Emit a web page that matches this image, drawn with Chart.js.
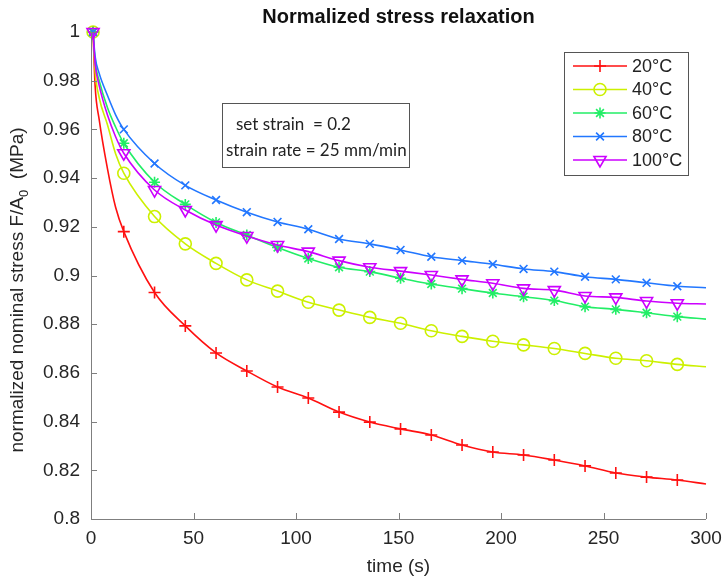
<!DOCTYPE html>
<html><head><meta charset="utf-8">
<script src="https://cdn.jsdelivr.net/npm/chart.js@4.4.0/dist/chart.umd.min.js"></script>
<style>html,body{margin:0;padding:0;background:#fff}#wrap{width:722px;height:583px;position:relative}</style>
</head><body><div id="wrap"><canvas id="c" width="722" height="583"></canvas></div>
<script>
// time (s)
const times = [1,2,4,8,12,16,31,46,61,76,91,106,121,136,151,166,181,196,211,226,241,256,271,286,300];
// marker times
const markerTimes = [1,16,31,46,61,76,91,106,121,136,151,166,181,196,211,226,241,256,271,286];
const s20  = [1.0,0.978,0.964,0.944,0.928,0.918,0.893,0.8793,0.8682,0.8608,0.8542,0.8497,0.8439,0.8398,0.8370,0.8345,0.8304,0.8275,0.8263,0.8242,0.8218,0.8189,0.8172,0.8160,0.8144];
const s40  = [1.0,0.984,0.973,0.962,0.950,0.942,0.9242,0.913,0.905,0.8982,0.8936,0.8890,0.8858,0.8828,0.8804,0.8773,0.875,0.873,0.8715,0.870,0.868,0.866,0.865,0.8635,0.8625];
const s60  = [1.0,0.988,0.980,0.969,0.961,0.9543,0.9383,0.9292,0.9218,0.9166,0.9115,0.9070,0.9034,0.9016,0.8989,0.8965,0.8946,0.8928,0.8913,0.8897,0.8872,0.8861,0.8847,0.8831,0.8821];
const s80  = [1.0,0.990,0.983,0.974,0.966,0.960,0.946,0.937,0.931,0.926,0.922,0.919,0.915,0.913,0.9105,0.9077,0.9061,0.9046,0.9027,0.9016,0.8995,0.8984,0.8970,0.8956,0.8950];
const s100 = [1.0,0.987,0.978,0.966,0.957,0.9502,0.9351,0.9269,0.9207,0.9162,0.9125,0.9098,0.9061,0.9034,0.9018,0.9002,0.8984,0.8968,0.8947,0.8940,0.8916,0.8910,0.8895,0.8886,0.8883];
const seriesNames = ['20°C','40°C','60°C','80°C','100°C'];
const xTickValues = [0,50,100,150,200,250,300];
const yTickValues = [0.8,0.82,0.84,0.86,0.88,0.9,0.92,0.94,0.96,0.98,1];
const titleText = 'Normalized stress relaxation';
const xLabel = 'time (s)';
const noteLines = ['set strain  = 0.2','strain rate = 25 mm/min'];

const allSeries = [s20,s40,s60,s80,s100];
const styles = [
  {color:'#ff1010', pointStyle:'cross',    radius:6, rotation:0},
  {color:'#ccf000', pointStyle:'circle',   radius:6, rotation:0},
  {color:'#22ee66', pointStyle:'star',     radius:5.5, rotation:0},
  {color:'#2277ff', pointStyle:'crossRot', radius:5.5, rotation:0},
  {color:'#cc00ff', pointStyle:'triangle', radius:7, rotation:180}
];
const markerSet = new Set(markerTimes);

const datasets = allSeries.map((vals,i)=>({
  label: seriesNames[i],
  data: times.map((t,j)=>({x:t,y:vals[j]})),
  borderColor: styles[i].color,
  backgroundColor: 'rgba(0,0,0,0)',
  borderWidth: 1.6,
  pointStyle: styles[i].pointStyle,
  pointRotation: styles[i].rotation,
  pointBorderColor: styles[i].color,
  pointBackgroundColor: 'rgba(0,0,0,0)',
  pointBorderWidth: 1.6,
  pointRadius: ctx => markerSet.has(times[ctx.dataIndex]) ? styles[i].radius : 0,
  pointHoverRadius: 0,
  cubicInterpolationMode: 'monotone',
  clip: false,
  order: 4 - i
}));

const FONT = '"Liberation Sans", Arial, sans-serif';
const overlay = {
  id: 'overlay',
  afterDraw(chart){
    const {ctx, chartArea:a, scales:{x,y}} = chart;
    ctx.save();
    ctx.strokeStyle = '#7f7f7f'; ctx.lineWidth = 1;
    ctx.beginPath();
    ctx.moveTo(Math.round(a.left)+0.5, a.top);
    ctx.lineTo(Math.round(a.left)+0.5, Math.round(a.bottom)+0.5);
    ctx.lineTo(a.right, Math.round(a.bottom)+0.5);
    ctx.stroke();
    x.ticks.forEach(t=>{const px=Math.round(x.getPixelForValue(t.value))+0.5; ctx.beginPath(); ctx.moveTo(px,a.bottom); ctx.lineTo(px,a.bottom-6); ctx.stroke();});
    y.ticks.forEach(t=>{const py=Math.round(y.getPixelForValue(t.value))+0.5; ctx.beginPath(); ctx.moveTo(a.left,py); ctx.lineTo(a.left+6,py); ctx.stroke();});
    // title
    ctx.fillStyle = '#111'; ctx.font = 'bold 20px ' + FONT; ctx.textAlign='center'; ctx.textBaseline='middle';
    ctx.fillText(titleText, (a.left+a.right)/2, 17);
    // x label
    ctx.fillStyle = '#262626'; ctx.font = '19px ' + FONT;
    ctx.fillText(xLabel, (a.left+a.right)/2, 567);
    // y label with subscript
    ctx.save();
    ctx.translate(18, 290); ctx.rotate(-Math.PI/2);
    const p1 = 'normalized nominal stress F/A', p2 = '0', p3 = '  (MPa)';
    ctx.font = '19px ' + FONT;
    const w1 = ctx.measureText(p1).width, w3 = ctx.measureText(p3).width;
    ctx.font = '13px ' + FONT; const w2 = ctx.measureText(p2).width;
    const tot = w1+w2+w3; let sx = -tot/2;
    ctx.textAlign='left'; ctx.textBaseline='middle';
    ctx.font = '19px ' + FONT; ctx.fillText(p1, sx, 0); sx += w1;
    ctx.font = '13px ' + FONT; ctx.fillText(p2, sx, 6); sx += w2;
    ctx.font = '19px ' + FONT; ctx.fillText(p3, sx, 0);
    ctx.restore();
    // note box
    ctx.fillStyle = '#fff'; ctx.strokeStyle = '#555'; ctx.lineWidth = 1;
    ctx.fillRect(222.5,103.5,187,64); ctx.strokeRect(222.5,103.5,187,64);
    ctx.fillStyle = '#222'; ctx.font = '17px Lato, "Open Sans", sans-serif'; ctx.textAlign='left';
    ctx.fillText(noteLines[0], 236, 125);
    ctx.fillText(noteLines[1], 226, 151);
    // legend
    ctx.fillStyle = '#fff'; ctx.strokeStyle = '#555';
    ctx.fillRect(564.5,52.5,124,123); ctx.strokeRect(564.5,52.5,124,123);
    ctx.font = '18px ' + FONT; ctx.textBaseline='middle';
    seriesNames.forEach((n,i)=>{
      const ly = 66 + i*23.5;
      const st = styles[i];
      ctx.strokeStyle = st.color; ctx.lineWidth = 1.6;
      ctx.beginPath(); ctx.moveTo(573, ly); ctx.lineTo(627, ly); ctx.stroke();
      ctx.fillStyle = 'rgba(0,0,0,0)';
      Chart.helpers.drawPoint(ctx, {pointStyle: st.pointStyle, radius: st.radius, rotation: st.rotation, borderWidth: 1.6}, 600, ly);
      ctx.fillStyle = '#222'; ctx.fillText(n, 632, ly+1);
    });
    ctx.restore();
  }
};

new Chart(document.getElementById('c'), {
  type: 'line',
  data: { datasets },
  options: {
    responsive: false,
    animation: false,
    devicePixelRatio: 1,
    layout: { padding: { left: 0, right: 16, top: 32, bottom: 0 } },
    plugins: { legend: {display:false}, tooltip: {enabled:false} },
    scales: {
      x: {
        type: 'linear', min: 0, max: 300,
        afterFit: s => { s.height = 64; s.paddingLeft = 0; s.paddingRight = 0; },
        afterBuildTicks: s => { s.ticks = xTickValues.map(v=>({value:v})); },
        grid: { display:false, drawTicks:false },
        border: { display:false },
        ticks: { padding: 8, color:'#262626', font:{family:FONT, size:19}, maxRotation:0 }
      },
      y: {
        type: 'linear', min: 0.8, max: 1,
        afterFit: s => { s.width = 91; s.paddingTop = 0; s.paddingBottom = 0; },
        afterBuildTicks: s => { s.ticks = yTickValues.map(v=>({value:v})); },
        grid: { display:false, drawTicks:false },
        border: { display:false },
        ticks: { padding: 11, color:'#262626', font:{family:FONT, size:19},
          callback: v => String(Math.round(v*100)/100) }
      }
    }
  },
  plugins: [overlay]
});
</script></body></html>
